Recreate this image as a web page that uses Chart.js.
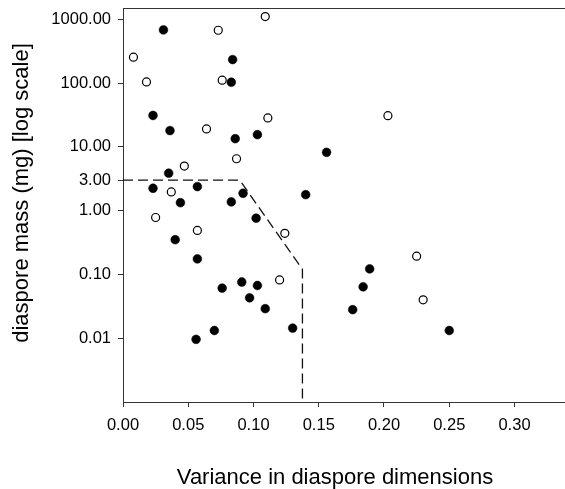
<!DOCTYPE html>
<html>
<head>
<meta charset="utf-8">
<script src="https://cdn.jsdelivr.net/npm/chart.js@4"></script>
<style>
html,body{margin:0;padding:0;background:#fff;}
#wrap{width:565px;height:489px;position:relative;}
</style>
</head>
<body>
<div id="wrap"><canvas id="c" width="565" height="489"></canvas></div>
<script>
// Filled circles
const filledX = [0.031,0.084,0.083,0.023,0.036,0.086,0.103,0.156,0.035,0.023,0.057,0.092,0.140,0.044,0.083,0.102,0.040,0.057,0.076,0.091,0.103,0.097,0.109,0.130,0.070,0.056,0.189,0.184,0.176,0.250];
const filledY = [680,233,103,31,18,13.4,15.5,8.2,3.86,2.24,2.38,1.87,1.78,1.33,1.37,0.76,0.35,0.175,0.061,0.076,0.067,0.043,0.029,0.0144,0.0132,0.0096,0.122,0.064,0.028,0.0132];
// Open circles
const openX = [0.008,0.018,0.073,0.109,0.076,0.111,0.064,0.087,0.047,0.037,0.203,0.025,0.057,0.124,0.120,0.225,0.230];
const openY = [254,104,672,1100,111,28.4,19.1,6.5,5.0,1.96,30.8,0.78,0.49,0.44,0.082,0.193,0.040];
// Dashed boundary
const boundaryX = [0.0, 0.0895, 0.1375, 0.1375];
const boundaryY = [3, 3, 0.12, 0.001];
// Tick labels
const xTicks = [0.00,0.05,0.10,0.15,0.20,0.25,0.30];
const yTicks = [0.01,0.1,1,3,10,100,1000];
const xTitle = 'Variance in diaspore dimensions';
const yTitle = 'diaspore mass (mg) [log scale]';

const toPts = (xs, ys) => xs.map((x,i)=>({x:x, y:ys[i]}));
const noPad = s => { s.paddingTop = 0; s.paddingBottom = 0; s.paddingLeft = 0; s.paddingRight = 0; };

const frame = {
  id:'frame',
  afterDraw(chart){
    const {ctx, chartArea:a} = chart;
    ctx.save();
    ctx.strokeStyle = '#333';
    ctx.lineWidth = 1;
    ctx.beginPath();
    ctx.moveTo(a.left, a.top + 0.5);
    ctx.lineTo(a.right, a.top + 0.5);
    ctx.stroke();
    ctx.fillStyle = '#000';
    ctx.font = '22px "Liberation Sans", Arial, sans-serif';
    ctx.textAlign = 'center';
    ctx.textBaseline = 'alphabetic';
    ctx.fillText(xTitle, 335, 484);
    ctx.translate(28, 193);
    ctx.rotate(-Math.PI/2);
    ctx.fillText(yTitle, 0, 0);
    ctx.restore();
  }
};

new Chart(document.getElementById('c'), {
  type:'scatter',
  data:{
    datasets:[
      {data: toPts(boundaryX, boundaryY), showLine:true, borderColor:'#111', borderWidth:1.3, borderDash:[10,5], pointRadius:0, fill:false, tension:0},
      {data: toPts(filledX, filledY), pointRadius:4.4, pointBackgroundColor:'#000', pointBorderColor:'#000', pointBorderWidth:0.5},
      {data: toPts(openX, openY), pointRadius:4, pointBackgroundColor:'#fff', pointBorderColor:'#000', pointBorderWidth:1.2}
    ]
  },
  options:{
    responsive:false,
    animation:false,
    devicePixelRatio:1,
    layout:{autoPadding:false, padding:{top:8,right:0,left:0,bottom:0}},
    plugins:{legend:{display:false}, tooltip:{enabled:false}},
    scales:{
      x:{
        type:'linear', min:0, max:0.3387,
        afterBuildTicks(s){ s.ticks = xTicks.map(v=>({value:v})); },
        afterFit(s){ s.height = 87; noPad(s); },
        ticks:{color:'#000', font:{size:16.5, family:'"Liberation Sans", Arial, sans-serif'}, padding:9, maxRotation:0, callback:v=>Number(v).toFixed(2)},
        grid:{display:true, drawOnChartArea:false, drawTicks:true, tickLength:5, color:'#333'},
        border:{display:true, color:'#333', width:1}
      },
      y:{
        type:'logarithmic', min:0.001, max:1500,
        afterBuildTicks(s){ s.ticks = yTicks.map(v=>({value:v, major:false})); },
        afterFit(s){ s.width = 123; noPad(s); },
        ticks:{color:'#000', font:{size:16.5, family:'"Liberation Sans", Arial, sans-serif'}, padding:7, autoSkip:false, callback:v=>Number(v).toFixed(2)},
        grid:{display:true, drawOnChartArea:false, drawTicks:true, tickLength:5, color:'#333'},
        border:{display:true, color:'#333', width:1}
      }
    }
  },
  plugins:[frame]
});
</script>
</body>
</html>
